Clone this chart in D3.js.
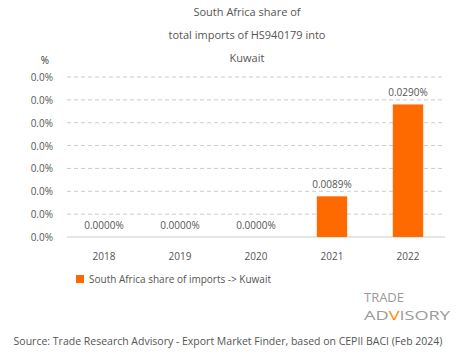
<!DOCTYPE html>
<html><head><meta charset="utf-8">
<script src="https://cdn.jsdelivr.net/npm/d3@7"></script>
<style>body{margin:0;background:#fff}svg{display:block}text{font-family:"Open Sans",sans-serif}</style>
</head><body><svg id="c" width="465" height="359"></svg>
<script>
const years = ["2018","2019","2020","2021","2022"];
const shares = [0.0000, 0.0000, 0.0000, 0.0089, 0.0290];
const yTicks = [0, 0.005, 0.01, 0.015, 0.02, 0.025, 0.03, 0.035];
const titleLines = ["South Africa share of","total imports of HS940179 into","Kuwait"];
const legendLabel = "South Africa share of imports -> Kuwait";
const source = "Source: Trade Research Advisory - Export Market Finder, based on CEPII BACI (Feb 2024)";

const svg = d3.select("#c");
const x = d3.scaleBand().domain(years).range([66, 446]).paddingInner(0.6).paddingOuter(0.3);
const y = d3.scaleLinear().domain([0, 0.035]).range([237, 77]);
const grey = "#555";

svg.selectAll(".t").data(titleLines).join("text")
  .attr("x", 247).attr("y", (d,i)=>16+i*23).attr("text-anchor","middle")
  .attr("font-size",11).attr("fill",grey).text(d=>d);

svg.append("text").attr("x",45).attr("y",64).attr("text-anchor","middle").attr("font-size",10).attr("fill","#333").text("%");

svg.selectAll(".g").data(yTicks.slice(1)).join("line")
  .attr("x1",67).attr("x2",445).attr("y1",d=>y(d)).attr("y2",d=>y(d))
  .attr("stroke","#ccc").attr("stroke-dasharray","4,3");
svg.append("line").attr("x1",67).attr("x2",445).attr("y1",y(0)).attr("y2",y(0)).attr("stroke","#ccc");

svg.selectAll(".yl").data(yTicks).join("text")
  .attr("x",53).attr("y",d=>y(d)+4).attr("text-anchor","end")
  .attr("font-size",10).attr("fill",grey).text(d=>d3.format(".1f")(d)+"%");

svg.selectAll(".bar").data(years).join("rect")
  .attr("x",d=>x(d)).attr("width",x.bandwidth())
  .attr("y",(d,i)=>y(shares[i])).attr("height",(d,i)=>y(0)-y(shares[i]))
  .attr("fill","#ff6a00");

svg.selectAll(".vl").data(years).join("text")
  .attr("x",d=>x(d)+x.bandwidth()/2).attr("y",(d,i)=>y(shares[i])-8)
  .attr("text-anchor","middle").attr("font-size",10).attr("fill",grey)
  .text((d,i)=>d3.format(".4f")(shares[i])+"%");

svg.selectAll(".xl").data(years).join("text")
  .attr("x",d=>x(d)+x.bandwidth()/2).attr("y",260)
  .attr("text-anchor","middle").attr("font-size",10).attr("fill",grey).text(d=>d);

svg.append("rect").attr("x",76).attr("y",275).attr("width",8).attr("height",8).attr("fill","#ff6a00");
svg.append("text").attr("x",89).attr("y",283).attr("font-size",10).attr("fill",grey).text(legendLabel);

// logo
const lg = svg.append("g").attr("fill","#9a9a9a").attr("font-size",13).attr("font-family","Liberation Sans, sans-serif");
lg.append("text").attr("x",364).attr("y",302).attr("textLength",40).attr("lengthAdjust","spacingAndGlyphs").text("TRADE");
const adv = lg.append("text").attr("x",364).attr("y",320).attr("textLength",86).attr("lengthAdjust","spacingAndGlyphs");
adv.append("tspan").text("AD");
adv.append("tspan").attr("fill","#ff8a00").text("V");
adv.append("tspan").text("ISORY");

svg.append("text").attr("x",228).attr("y",345).attr("text-anchor","middle").attr("font-size",10.5).attr("fill",grey).text(source);
</script></body></html>
